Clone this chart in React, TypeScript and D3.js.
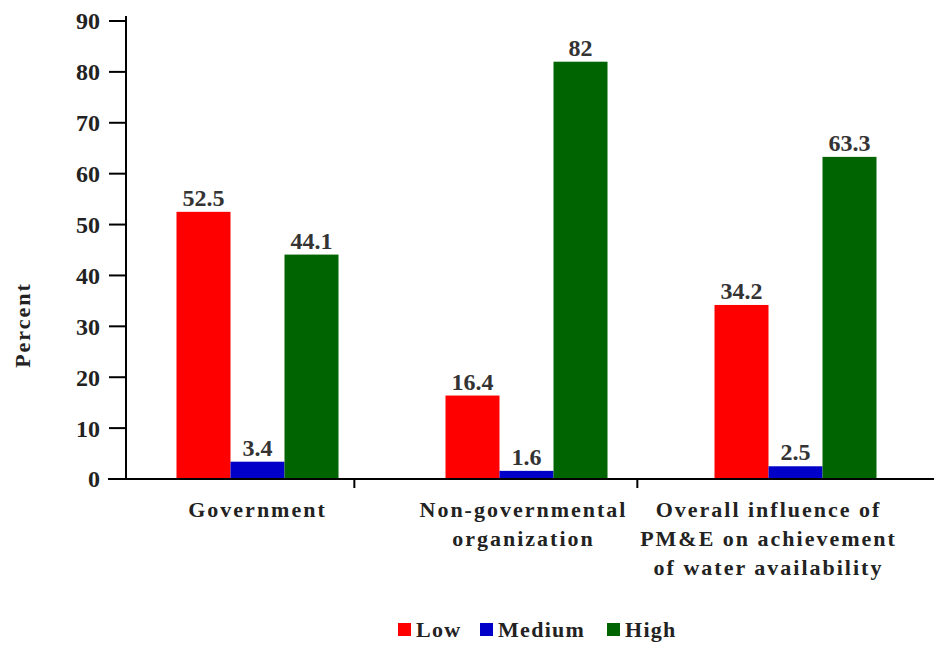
import React from "react";
import * as d3 from "d3";

// Survey results: perceived influence by sector
const categories: string[][] = [
  ["Government"],
  ["Non-governmental", "organization"],
  ["Overall influence of", "PM&E on achievement", "of water availability"],
];
const seriesNames = ["Low", "Medium", "High"];
const low = [52.5, 16.4, 34.2];
const medium = [3.4, 1.6, 2.5];
const high = [44.1, 82, 63.3];
const yTicks = [0, 10, 20, 30, 40, 50, 60, 70, 80, 90];
const colors = ["#ff0000", "#0000c8", "#006400"];

const W = 934;
const H = 646;
const FONT = "Liberation Serif, Times New Roman, serif";

export default function App() {
  const series = [low, medium, high];
  const catKeys = categories.map((c) => c.join(" "));

  const y = d3.scaleLinear().domain([0, 90]).range([479, 21]);
  const x0 = d3.scaleBand<string>().domain(catKeys).range([123, 930]).paddingInner(0);
  const groupW = 162;
  const x1 = d3.scaleBand<string>().domain(seriesNames).range([0, groupW]);
  const groupStart = (i: number) => (x0(catKeys[i]) ?? 0) + (x0.bandwidth() - groupW) / 2;
  const axisX = 126;
  const baseY = y(0);

  // keep the long wrapped label of the last group inside the right margin
  const labelShift = (i: number) => (i === categories.length - 1 ? -27 : -3 * i);

  return (
    <svg
      width={W}
      height={H}
      style={{ position: "absolute", left: 0, top: 0, background: "#fff", fontFamily: FONT }}
    >
      {/* bars */}
      {series.map((vals, s) =>
        vals.map((v, i) => (
          <rect
            key={`b${s}-${i}`}
            x={groupStart(i) + (x1(seriesNames[s]) ?? 0)}
            y={y(v)}
            width={x1.bandwidth()}
            height={baseY - y(v)}
            fill={colors[s]}
          />
        ))
      )}
      {/* value labels */}
      {series.map((vals, s) =>
        vals.map((v, i) => (
          <text
            key={`v${s}-${i}`}
            x={groupStart(i) + (x1(seriesNames[s]) ?? 0) + x1.bandwidth() / 2}
            y={y(v) - 6}
            textAnchor="middle"
            fontSize={24}
            fontWeight="bold"
            fill="#333"
          >
            {String(v)}
          </text>
        ))
      )}

      {/* y axis */}
      <line x1={axisX} x2={axisX} y1={16} y2={baseY} stroke="#000" strokeWidth={2} />
      {yTicks.map((t) => (
        <g key={`t${t}`}>
          <line x1={axisX - 17} x2={axisX} y1={y(t)} y2={y(t)} stroke="#000" strokeWidth={2} />
          <text
            x={axisX - 26}
            y={y(t)}
            dy="0.35em"
            textAnchor="end"
            fontSize={24}
            fontWeight="bold"
            fill="#222"
          >
            {t}
          </text>
        </g>
      ))}
      <text
        transform={`translate(30,325) rotate(-90)`}
        textAnchor="middle"
        fontSize={22}
        fontWeight="bold"
        letterSpacing={2}
        fill="#222"
      >
        Percent
      </text>

      {/* x axis */}
      <line x1={108} x2={W} y1={baseY} y2={baseY} stroke="#000" strokeWidth={2} />
      {catKeys.slice(0, -1).map((k, i) => {
        const tx = (x0(k) ?? 0) + x0.bandwidth() * 0.86 + i * 14;
        return <line key={`xt${i}`} x1={tx} x2={tx} y1={baseY} y2={baseY + 9} stroke="#000" strokeWidth={2} />;
      })}
      {categories.map((lines, i) => {
        const cx = (x0(catKeys[i]) ?? 0) + x0.bandwidth() / 2 + labelShift(i);
        return (
          <text
            key={`c${i}`}
            textAnchor="middle"
            fontSize={22}
            fontWeight="bold"
            letterSpacing={2}
            fill="#222"
          >
            {lines.map((ln, j) => (
              <tspan key={j} x={cx} y={517 + j * 29}>
                {ln}
              </tspan>
            ))}
          </text>
        );
      })}

      {/* legend */}
      {seriesNames.map((name, s) => {
        const lx = [398, 480, 607][s];
        return (
          <g key={`l${s}`}>
            <rect x={lx} y={623} width={13} height={13} fill={colors[s]} />
            <text x={lx + 18} y={637} fontSize={22} fontWeight="bold" letterSpacing={1.3} fill="#222">
              {name}
            </text>
          </g>
        );
      })}
    </svg>
  );
}
